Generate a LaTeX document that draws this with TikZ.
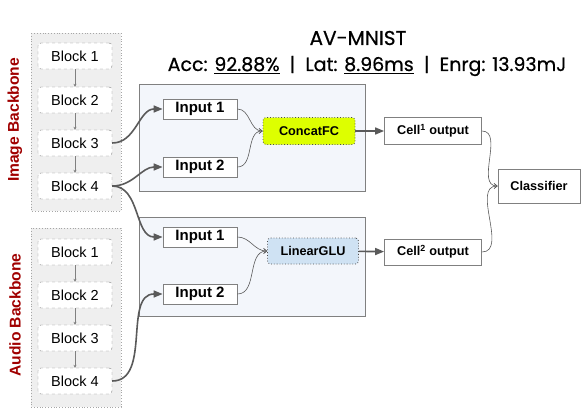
\documentclass[tikz,border=0pt]{standalone}
\usepackage{fontspec}
\setmainfont{Liberation Sans}
\newfontfamily\titlefont[BoldFont={Poppins}, BoldFeatures={FakeBold=0.6}]{Poppins}
\usepackage{tikz}
\usetikzlibrary{arrows.meta}
\definecolor{bbgray}{HTML}{EFEFEF}
\definecolor{cellbg}{HTML}{F3F6FB}
\definecolor{linegray}{HTML}{5A5A5A}
\definecolor{opgreen}{HTML}{DDFF00}
\definecolor{opblue}{HTML}{CFE2F3}
\definecolor{bbred}{HTML}{A00000}

\begin{document}
\begin{tikzpicture}[x=1pt, y=-1pt,
    backbone/.style={draw=gray!70, dotted, fill=bbgray, line width=0.8pt},
    cellbox/.style={draw=gray, fill=cellbg, line width=0.8pt},
    block/.style={draw=gray, dashed, fill=white, rounded corners=3pt, minimum width=74pt, minimum height=26pt, font=\fontsize{14.5}{16}\selectfont, inner sep=0pt},
    inbox/.style={draw=gray, fill=white, minimum width=74pt, minimum height=20pt, font=\fontsize{15}{16}\selectfont\bfseries, inner sep=0pt, line width=0.8pt},
    op/.style={draw=black!70, dotted, rounded corners=3pt, minimum height=26pt, font=\fontsize{12.7}{14}\selectfont\bfseries, inner sep=0pt, line width=0.8pt},
    outbox/.style={draw=gray, fill=white, minimum width=97pt, minimum height=26pt, font=\fontsize{12.7}{14}\selectfont\bfseries, inner sep=0pt, line width=0.8pt},
    label/.style={font=\fontsize{15.6}{17}\selectfont\bfseries, text=bbred, rotate=90},
    step arrow/.style={-{Stealth[length=3pt, width=3pt]}, gray, line width=0.6pt},
    feed/.style={-{Triangle[length=9pt, width=7pt]}, linegray, line width=1.6pt},
    merge/.style={-{Straight Barb[length=3pt, width=5pt]}, linegray, line width=0.6pt}
]
    \useasboundingbox (0,0) rectangle (584,413);

    % Backbones
    \draw[backbone] (31,33) rectangle (121,211);
    \draw[backbone] (31,228) rectangle (121,407);
    \node[label] (imglabel) at (15,120) {Image Backbone};
    \node[label] (audlabel) at (15,315) {Audio Backbone};

    \node[block] (ib1) at (75,56) {Block 1};
    \node[block] (ib2) at (75,100) {Block 2};
    \node[block] (ib3) at (75,143) {Block 3};
    \node[block] (ib4) at (75,186) {Block 4};
    \node[block] (ab1) at (75,252) {Block 1};
    \node[block] (ab2) at (75,295) {Block 2};
    \node[block] (ab3) at (75,338) {Block 3};
    \node[block] (ab4) at (75,381) {Block 4};
    \draw[step arrow] (ib1) -- (ib2);
    \draw[step arrow] (ib2) -- (ib3);
    \draw[step arrow] (ib3) -- (ib4);
    \draw[step arrow] (ab1) -- (ab2);
    \draw[step arrow] (ab2) -- (ab3);
    \draw[step arrow] (ab3) -- (ab4);

    % Title
    \node (title) at (358,38) {\titlefont\bfseries\fontsize{20}{22}\selectfont AV-MNIST};
    \node (metrics) at (367,66) {\titlefont\bfseries\fontsize{19}{22}\selectfont Acc: \underline{92.88\%}\ \ |\ \ Lat: \underline{8.96ms}\ \ |\ \ Enrg: 13.93mJ};

    % Cells
    \draw[cellbox] (139,84) rectangle (365,191);
    \draw[cellbox] (139,217) rectangle (365,316);
    \node[inbox] (c1in1) at (200,109) {Input 1};
    \node[inbox] (c1in2) at (200,167) {Input 2};
    \node[inbox] (c2in1) at (200,237) {Input 1};
    \node[inbox] (c2in2) at (200,294) {Input 2};
    \node[op, fill=opgreen, minimum width=92pt, minimum height=27pt] (concat) at (309,131) {ConcatFC};
    \node[op, fill=opblue, minimum width=91pt] (linglu) at (313,251) {LinearGLU};
    \draw[merge] (c1in1.east) to[out=0, in=180] (concat.west);
    \draw[merge] (c1in2.east) to[out=0, in=180] (concat.west);
    \draw[merge] (c2in1.east) to[out=0, in=180] (linglu.west);
    \draw[merge] (c2in2.east) to[out=0, in=180] (linglu.west);

    % Outputs
    \node[outbox, minimum height=27pt] (cell1) at (433,131) {Cell\textsuperscript{1} output};
    \node[outbox] (cell2) at (433,252) {Cell\textsuperscript{2} output};
    \node[outbox, minimum width=82pt, minimum height=34pt] (clf) at (539,186) {Classifier};
    \draw[feed] (concat) -- (cell1);
    \draw[feed] (linglu) -- (cell2);
    \draw[merge] (cell1.east) to[out=0, in=180] (clf.west);
    \draw[merge] (cell2.east) to[out=0, in=180] (clf.west);

    % Backbone features into cells
    \draw[feed] (ib3.east) to[out=0, in=180] (c1in1.west);
    \draw[feed] (ib4.east) to[out=0, in=180] (c1in2.west);
    \draw[feed] (ib4.east) to[out=0, in=180] (c2in1.west);
    \draw[feed] (ab4.east) to[out=0, in=180] (c2in2.west);
\end{tikzpicture}
\end{document}
